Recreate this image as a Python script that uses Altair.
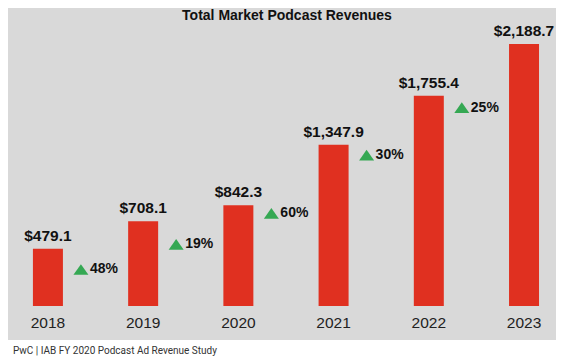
import altair as alt
import pandas as pd

years = ["2018", "2019", "2020", "2021", "2022", "2023"]
revenues = [479.1, 708.1, 842.3, 1347.9, 1755.4, 2188.7]
value_labels = ["$479.1", "$708.1", "$842.3", "$1,347.9", "$1,755.4", "$2,188.7"]
growth_from = ["2018", "2019", "2020", "2021", "2022"]
growth_labels = ["48%", "19%", "60%", "30%", "25%"]
growth_label_level = [305, 515, 774, 1261, 1657]
title_text = ["Total Market Podcast Revenues"]
source_text = ["PwC | IAB FY 2020 Podcast Ad Revenue Study"]

bars_df = pd.DataFrame({"year": years, "revenue": revenues, "label": value_labels})
growth_df = pd.DataFrame({"year": growth_from, "pct": growth_labels, "level": growth_label_level})
title_df = pd.DataFrame({"t": title_text})
source_df = pd.DataFrame({"t": source_text})

W = 548
H = 290
YMAX = 2188.7 * H / 262

RED = "#e03020"
GREEN = "#35a853"
GRAY = "#d9d9d9"
FONT = "Liberation Sans"

xscale = alt.Scale(domain=years, paddingInner=0.685, paddingOuter=0.22, align=0.595)
x_axis = alt.Axis(title=None, labelAngle=0, domain=False, ticks=False, tickSize=0,
                  labelPadding=16, labelBaseline="middle", labelFontSize=15.5,
                  labelFont=FONT, labelColor="#222222", zindex=1, grid=False)
X = alt.X("year:N", sort=years, scale=xscale, axis=x_axis)
yscale = alt.Scale(domain=[0, YMAX], nice=False, zero=True)

bg = alt.Chart(title_df).mark_rect(color=GRAY).encode(
    x=alt.value(0), x2=alt.value(W), y=alt.value(-8), y2=alt.value(324)
)

bars = alt.Chart(bars_df).mark_bar(color=RED).encode(
    x=X, y=alt.Y("revenue:Q", scale=yscale, axis=None)
)

vals = alt.Chart(bars_df).mark_text(
    dy=-8, baseline="alphabetic", fontSize=15.5, fontWeight="bold", font=FONT, color="#111111"
).encode(x=X, y=alt.Y("revenue:Q", scale=yscale, axis=None), text="label:N")

tri = alt.Chart(growth_df).mark_point(
    shape="M0,-0.71L1,0.71L-1,0.71Z", filled=True, size=225, color=GREEN, opacity=1, strokeWidth=0
).encode(x=X, xOffset=alt.value(48), y=alt.Y("level:Q", scale=yscale, axis=None))

pct = alt.Chart(growth_df).mark_text(
    align="left", baseline="middle", dx=42, fontSize=14, fontWeight="bold", font=FONT, color="#111111"
).encode(x=X, y=alt.Y("level:Q", scale=yscale, axis=None), text="pct:N")

title = alt.Chart(title_df).mark_text(
    align="center", baseline="middle", fontSize=14, fontWeight="bold", font=FONT, color="#111111"
).encode(x=alt.value(279), y=alt.value(0), text="t:N")

source = alt.Chart(source_df).mark_text(
    align="left", baseline="middle", fontSize=10, font="Roboto", color="#333333"
).encode(x=alt.value(5), y=alt.value(335), text="t:N")

chart = alt.layer(bg, bars, vals, tri, pct, title, source).properties(
    width=W, height=H, padding=0, background="white"
).configure_view(stroke=None)

chart.save("out.html", embed_options={"renderer": "svg", "actions": False})
